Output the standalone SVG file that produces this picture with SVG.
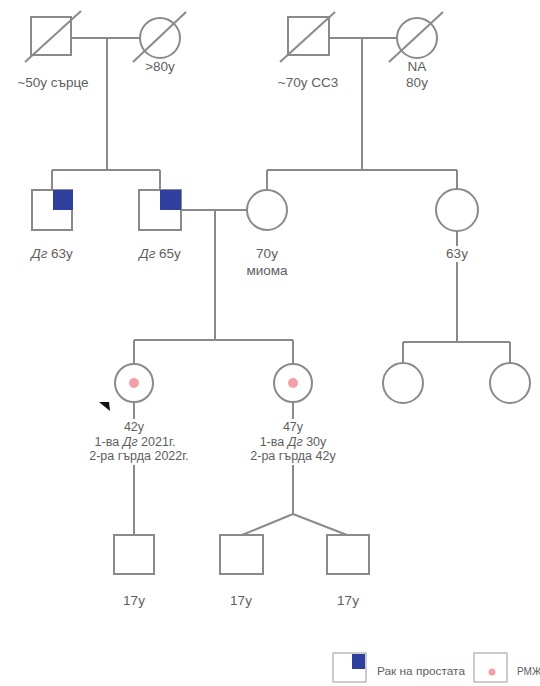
<svg xmlns="http://www.w3.org/2000/svg" width="540" height="686" viewBox="0 0 540 686">
<style>
.ln{stroke:#8a8a8c;stroke-width:2;fill:none}
.sh{stroke:#8a8a8c;stroke-width:2;fill:#fff}
.t{font-family:"Liberation Sans",Arial,sans-serif;font-size:13.5px;fill:#5e5e5e;text-anchor:middle}
.s{font-size:12.5px}
.lg{font-family:"Liberation Sans",Arial,sans-serif;font-size:10px;fill:#5e5e5e}
.bl{fill:#2f3f9e}
.pk{fill:#f2a0aa}
.bg{fill:#fff}
</style>
<rect width="540" height="686" fill="#fff"/>
<g id="connectors">
  <path class="ln" d="M72 38H140 M107 38V170 M52 170H160 M52 170V190 M160 170V190"/>
  <path class="ln" d="M330 38H396 M362 38V170 M267 170H457 M267 170V190 M457 170V189"/>
  <path class="ln" d="M181 210H247 M215 210V340 M134 340H293 M134 340V363 M293 340V363"/>
  <path class="ln" d="M457 231V342 M403 342H510 M403 342V363 M510 342V363"/>
  <path class="ln" d="M134 403V535 M293 403V514 M293 514L242 535 M293 514L347 535"/>
</g>
<g id="gm1"><rect class="sh" x="31" y="17" width="40" height="38"/><path class="ln" d="M25 62L81 11"/>
<text class="t" x="53" y="87">~50y сърце</text></g>
<g id="gf1"><circle class="sh" cx="160" cy="38" r="20"/><path class="ln" d="M133 62L186 12"/>
<text class="t" x="160" y="71">&gt;80y</text></g>
<g id="gm2"><rect class="sh" x="288" y="17" width="41" height="38"/><path class="ln" d="M280 62L335 12"/>
<text class="t" x="308" y="87">~70y CC3</text></g>
<g id="gf2"><circle class="sh" cx="417" cy="38" r="20"/><path class="ln" d="M389 62L443 12"/>
<text class="t" x="417" y="71">NA</text><text class="t" x="417" y="87">80y</text></g>
<g id="u1"><rect class="sh" x="32" y="190" width="40" height="40"/><rect class="bl" x="53" y="190" width="20" height="20"/>
<text class="t" x="52" y="258"><tspan font-style="italic">Дг</tspan> 63y</text></g>
<g id="u2"><rect class="sh" x="139" y="190" width="42" height="40"/><rect class="bl" x="160" y="190" width="21" height="20"/>
<text class="t" x="160" y="258"><tspan font-style="italic">Дг</tspan> 65y</text></g>
<g id="m70"><circle class="sh" cx="267" cy="210" r="20"/>
<text class="t" x="267" y="258">70y</text><text class="t" x="267" y="275">миома</text></g>
<g id="a63"><circle class="sh" cx="457" cy="210" r="21"/><rect class="bg" x="442" y="246" width="30" height="16"/>
<text class="t" x="457" y="258">63y</text></g>
<g id="c1"><circle class="sh" cx="403" cy="383" r="20"/></g>
<g id="c2"><circle class="sh" cx="510" cy="383" r="20"/></g>
<g id="p42"><circle class="sh" cx="134" cy="383" r="19"/><circle class="pk" cx="134" cy="383" r="5"/>
<polygon fill="#111" points="99,402 109,402 110,411"/>
<rect class="bg" x="80" y="419" width="118" height="46"/>
<text class="t s" x="134" y="431">42y</text><text class="t s" x="135" y="445.5">1-ва <tspan font-style="italic">Дг</tspan> 2021г.</text><text class="t s" x="139" y="460">2-ра гърда 2022г.</text></g>
<g id="s47"><circle class="sh" cx="293" cy="383" r="19"/><circle class="pk" cx="293" cy="383" r="5"/>
<rect class="bg" x="238" y="419" width="112" height="46"/>
<text class="t s" x="293" y="431">47y</text><text class="t s" x="293" y="445.5">1-ва <tspan font-style="italic">Дг</tspan> 30y</text><text class="t s" x="293" y="460">2-ра гърда 42y</text></g>
<g id="k1"><rect class="sh" x="114" y="535" width="40" height="39"/><text class="t" x="134" y="605">17y</text></g>
<g id="k2"><rect class="sh" x="220" y="535" width="43" height="39"/><text class="t" x="241" y="605">17y</text></g>
<g id="k3"><rect class="sh" x="327" y="535" width="42" height="39"/><text class="t" x="348" y="605">17y</text></g>
<g id="legend">
  <rect x="333" y="653" width="33" height="29" fill="#fff" stroke="#9a9a9a" stroke-width="1"/>
  <rect class="bl" x="352" y="654" width="13" height="15"/>
  <text class="lg" x="377" y="675" textLength="88" lengthAdjust="spacingAndGlyphs">Рак на простата</text>
  <rect x="474" y="653" width="33" height="29" fill="#fff" stroke="#9a9a9a" stroke-width="1"/>
  <circle class="pk" cx="492" cy="672" r="3.5"/>
  <text class="lg" x="517" y="675">РМЖ</text>
</g>
</svg>
